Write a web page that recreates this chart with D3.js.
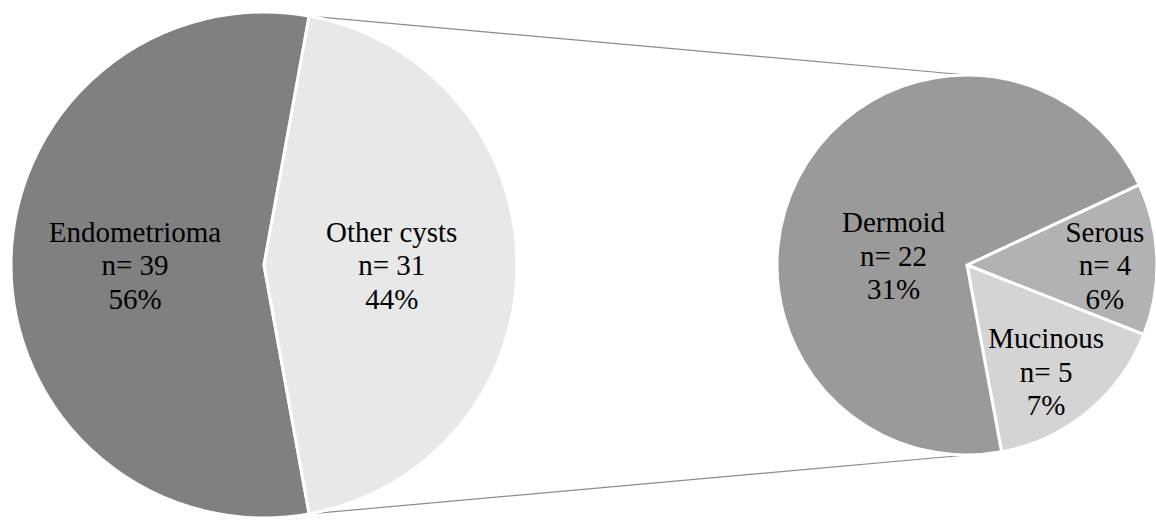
<!DOCTYPE html>
<html><head><meta charset="utf-8">
<script src="https://cdn.jsdelivr.net/npm/d3@7"></script>
<style>body{margin:0;background:#fff}svg{display:block}</style>
</head><body>
<svg id="c" width="1156" height="520"></svg>
<script>
const mainCategories = ["Endometrioma", "Other cysts"];
const mainCounts = [39, 31];
const mainPercents = ["56%", "44%"];
const subCategories = ["Serous", "Mucinous", "Dermoid"];
const subCounts = [4, 5, 22];
const subPercents = ["6%", "7%", "31%"];

const mainColors = ["#808080", "#e8e8e8"];
const subColors = ["#b2b2b2", "#d4d4d4", "#9a9a9a"];

const W = 1156, H = 520;
const svg = d3.select("#c");
const deg = Math.PI / 180;

const c1 = {x: 264, y: 265, r: 253};
const c2 = {x: 967, y: 265, r: 190};

const total = d3.sum(mainCounts);
const otherAngle = 2 * Math.PI * mainCounts[1] / total;
const mainPie = d3.pie().sort(null).startAngle(Math.PI/2 + otherAngle/2).endAngle(Math.PI/2 + otherAngle/2 + 2*Math.PI);
const mainArcs = mainPie(mainCounts);
const arc1 = d3.arc().innerRadius(0).outerRadius(c1.r);

const subPie = d3.pie().sort(null).startAngle(65*deg).endAngle(65*deg + 2*Math.PI);
const subArcs = subPie(subCounts);
const arc2 = d3.arc().innerRadius(0).outerRadius(c2.r);

const otherArc = mainArcs[1];
const pTop = [c1.x + c1.r*Math.sin(otherArc.startAngle), c1.y - c1.r*Math.cos(otherArc.startAngle)];
const pBot = [c1.x + c1.r*Math.sin(otherArc.endAngle), c1.y - c1.r*Math.cos(otherArc.endAngle)];
svg.append("line").attr("x1", pTop[0]).attr("y1", pTop[1]).attr("x2", c2.x).attr("y2", c2.y - c2.r)
  .attr("stroke", "#8c8c8c").attr("stroke-width", 1.2);
svg.append("line").attr("x1", pBot[0]).attr("y1", pBot[1]).attr("x2", c2.x).attr("y2", c2.y + c2.r)
  .attr("stroke", "#8c8c8c").attr("stroke-width", 1.2);

const g1 = svg.append("g").attr("transform", `translate(${c1.x},${c1.y})`);
g1.selectAll("path").data(mainArcs).join("path")
  .attr("d", arc1).attr("fill", (d,i) => mainColors[i])
  .attr("stroke", "#fff").attr("stroke-width", 3).attr("stroke-linejoin", "miter");

const g2 = svg.append("g").attr("transform", `translate(${c2.x},${c2.y})`);
g2.selectAll("path").data(subArcs).join("path")
  .attr("d", arc2).attr("fill", (d,i) => subColors[i])
  .attr("stroke", "#fff").attr("stroke-width", 3).attr("stroke-linejoin", "miter");

const fontSize = 29, lineH = 33.5;
function label(g, x, y, lines) {
  lines.forEach((s, i) => {
    g.append("text").attr("text-anchor", "middle")
      .attr("font-family", "Liberation Serif")
      .attr("font-size", fontSize).attr("fill", "#000")
      .attr("x", x).attr("y", y + (i - 1) * lineH).text(s);
  });
}
const mainLabelPos = [{f: 0.51, da: 0}, {f: 0.505, da: 0}];
const subLabelPos = [{f: 0.726, da: 1.8}, {f: 0.70, da: 3}, {f: 0.39, da: -20}];
const baseShift = 10;

mainArcs.forEach((d, i) => {
  const a = (d.startAngle + d.endAngle)/2 + mainLabelPos[i].da*deg;
  const r = c1.r * mainLabelPos[i].f;
  label(g1, r*Math.sin(a), -r*Math.cos(a) + baseShift,
    [mainCategories[i], "n= " + mainCounts[i], mainPercents[i]]);
});
subArcs.forEach((d, i) => {
  const a = (d.startAngle + d.endAngle)/2 + subLabelPos[i].da*deg;
  const r = c2.r * subLabelPos[i].f;
  label(g2, r*Math.sin(a), -r*Math.cos(a) + baseShift,
    [subCategories[i], "n= " + subCounts[i], subPercents[i]]);
});
</script>
</body></html>
